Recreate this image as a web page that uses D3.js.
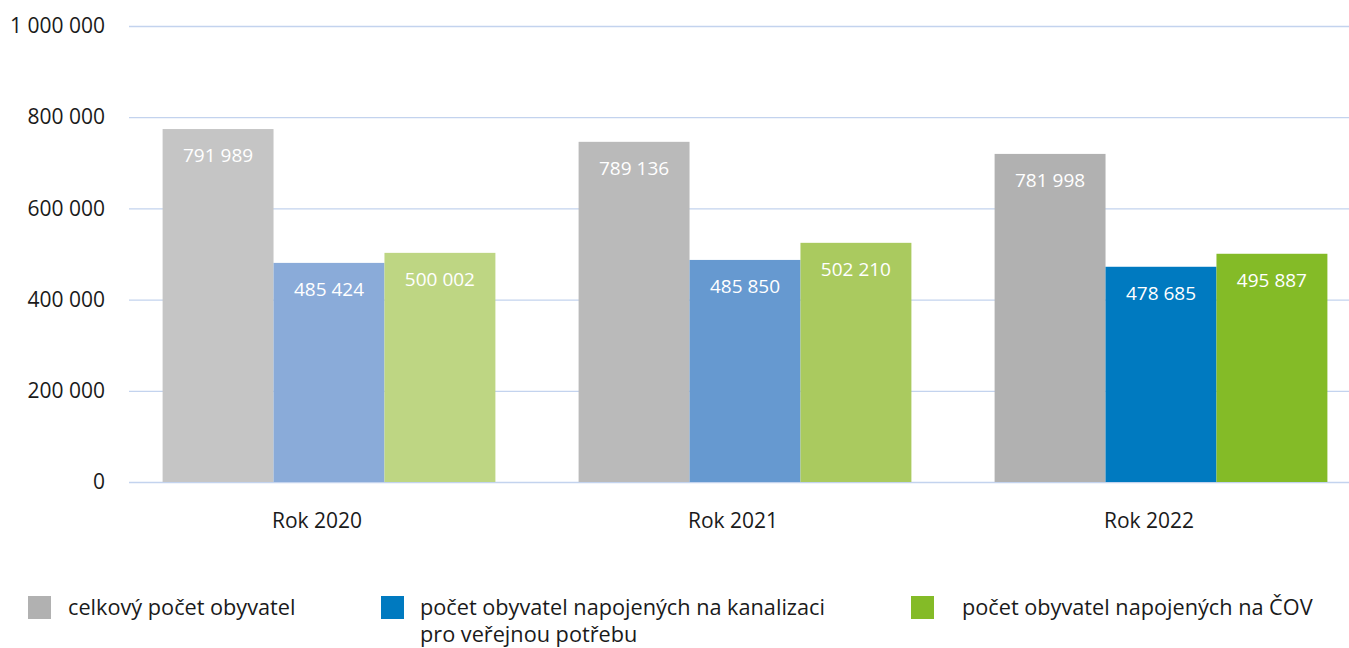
<!DOCTYPE html>
<html>
<head>
<meta charset="utf-8">
<script src="https://cdn.jsdelivr.net/npm/d3@7"></script>
<style>
  body { margin: 0; background: #fff; }
  svg { display: block; font-family: "Open Sans", sans-serif; }
</style>
</head>
<body>
<svg id="chart"></svg>
<script>
// Rozměry
const width = 1349, height = 648;
const svg = d3.select("#chart")
    .attr("width", width)
    .attr("height", height);

// Data
const categories = ["Rok 2020", "Rok 2021", "Rok 2022"];
const seriesNames = ["celkový počet obyvatel",
    "počet obyvatel napojených na kanalizaci pro veřejnou potřebu",
    "počet obyvatel napojených na ČOV"];
// výšky sloupců
const celkovy = [774000, 746000, 719500];
const kanalizace = [480500, 487000, 472000];
const cov = [502500, 524500, 500500];
// popisky hodnot
const celkovyLabels = ["791 989", "789 136", "781 998"];
const kanalizaceLabels = ["485 424", "485 850", "478 685"];
const covLabels = ["500 002", "502 210", "495 887"];
const yTicks = [0, 200000, 400000, 600000, 800000, 1000000];

// barvy (každý rok jiný odstín)
const colors = [
    ["#c5c5c5", "#8aabd9", "#bed683"],
    ["#bababa", "#6699d0", "#aaca5f"],
    ["#b1b1b1", "#007ac0", "#84bb27"]
];

const values = [celkovy, kanalizace, cov];
const labels = [celkovyLabels, kanalizaceLabels, covLabels];

// Škály
const x0 = d3.scaleBand()
    .domain(categories)
    .range([121, 1369])
    .paddingInner(0.2)
    .paddingOuter(0.1);

const x1 = d3.scaleBand()
    .domain(d3.range(seriesNames.length))
    .range([0, x0.bandwidth()]);

const y = d3.scaleLinear()
    .domain([0, 1000000])
    .range([482, 26]);

const fmt = v => d3.format(",")(v).replace(/,/g, " ");

// Mřížka
svg.append("g")
    .selectAll("line")
    .data(yTicks)
    .enter()
    .append("line")
    .attr("x1", 129)
    .attr("x2", width)
    .attr("y1", d => y(d) + 0.5)
    .attr("y2", d => y(d) + 0.5)
    .attr("stroke", "#c3d3ee")
    .attr("stroke-width", 1.3);

// Osa Y
const yAxis = svg.append("g")
    .attr("transform", "translate(105,0)")
    .call(d3.axisLeft(y).tickValues(yTicks).tickFormat(fmt).tickSize(0).tickPadding(0));
yAxis.select(".domain").remove();
yAxis.selectAll("text")
    .attr("font-size", 21)
    .attr("font-family", "Open Sans")
    .attr("fill", "#1a1a1a");

// Sloupce
const groups = svg.append("g")
    .selectAll("g")
    .data(categories)
    .enter()
    .append("g")
    .attr("transform", d => `translate(${x0(d)},0)`);

groups.each(function(cat, ci) {
    const g = d3.select(this);
    const rows = seriesNames.map((s, si) => ({ si, v: values[si][ci], label: labels[si][ci] }));
    g.selectAll("rect")
        .data(rows)
        .enter()
        .append("rect")
        .attr("x", d => x1(d.si))
        .attr("y", d => y(d.v))
        .attr("width", x1.bandwidth())
        .attr("height", d => y(0) - y(d.v))
        .attr("fill", d => colors[ci][d.si]);
    g.selectAll("text")
        .data(rows)
        .enter()
        .append("text")
        .attr("x", d => x1(d.si) + x1.bandwidth() / 2)
        .attr("y", d => y(d.v) + 33)
        .attr("text-anchor", "middle")
        .attr("font-size", 19)
        .attr("fill", "#ffffff")
        .text(d => d.label);
});

// Osa X
const xAxis = svg.append("g")
    .attr("transform", `translate(0,${y(0)})`)
    .call(d3.axisBottom(x0).tickSize(0).tickPadding(0));
xAxis.select(".domain").remove();
xAxis.selectAll("text")
    .attr("dx", -12)
    .attr("dy", 0)
    .attr("y", 46)
    .attr("font-size", 21)
    .attr("font-family", "Open Sans")
    .attr("fill", "#1a1a1a");

// Legenda
const legendX = [28, 381, 911];
const legendTextX = [68, 420, 962];
const legendLines = [
    ["celkový počet obyvatel"],
    ["počet obyvatel napojených na kanalizaci", "pro veřejnou potřebu"],
    ["počet obyvatel napojených na ČOV"]
];
const legend = svg.append("g")
    .selectAll("g")
    .data(seriesNames)
    .enter()
    .append("g");

legend.append("rect")
    .attr("x", (d, i) => legendX[i])
    .attr("y", 596)
    .attr("width", 23)
    .attr("height", 23)
    .attr("fill", (d, i) => colors[2][i]);

legend.append("text")
    .attr("font-size", 21.7)
    .attr("fill", "#1a1a1a")
    .each(function(d, i) {
        d3.select(this).selectAll("tspan")
            .data(legendLines[i])
            .enter()
            .append("tspan")
            .attr("x", legendTextX[i])
            .attr("y", (t, j) => 615 + j * 27)
            .text(t => t);
    });
</script>
</body>
</html>
